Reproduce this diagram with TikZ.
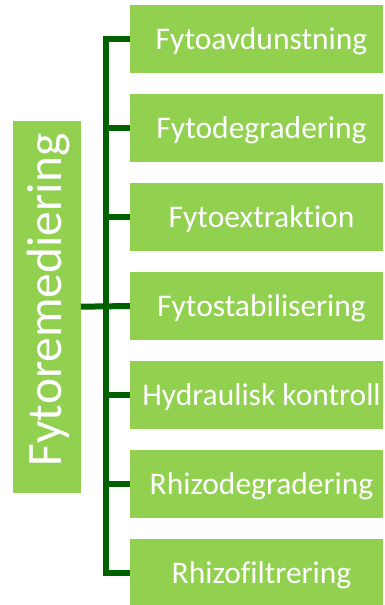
\documentclass[tikz,border=0pt]{standalone}
\usepackage{fontspec}
\setmainfont[Ligatures=NoCommon]{Carlito}
\definecolor{boxgreen}{HTML}{92D050}
\definecolor{linegreen}{HTML}{006100}
\begin{document}
\begin{tikzpicture}[x=1pt,y=-1pt,
  box/.style={fill=boxgreen,draw=none,minimum width=253pt,minimum height=68pt,inner sep=0pt},
  mainbox/.style={fill=boxgreen,draw=none,minimum width=68pt,minimum height=372pt,inner sep=0pt},
  txt/.style={text=white,font=\fontsize{31.5}{36}\selectfont,inner sep=0pt,anchor=base},
  conn/.style={draw=linegreen,line width=6pt}]
\useasboundingbox (0,0) rectangle (384,605);
\node[mainbox] (L) at (46.7,306.7) {};
\node[text=white,font=\fontsize{49.5}{56}\selectfont,rotate=90,inner sep=0pt,anchor=base] (Lt) at (61.5,300) {Fytoremediering};
\foreach \i/\t in {1/Fytoavdunstning,2/Fytodegradering,3/Fytoextraktion,4/Fytostabilisering,5/Hydraulisk kontroll,6/Rhizodegradering,7/Rhizofiltrering}{
  \node[box] (b\i) at (256.5,{39+89*(\i-1)}) {};
  \node[txt] (t\i) at ([xshift=5pt,yshift=-10pt]b\i.center) {\t};
}
\draw[conn] (b1.west) -- ++(-24,0) coordinate (top) |- (b7.west);
\foreach \i in {2,3,5,6}{\draw[conn] (b\i.west) -- ++(-24.5,0);}
\draw[conn] (L.east) -- (b4.west);
\end{tikzpicture}
\end{document}
